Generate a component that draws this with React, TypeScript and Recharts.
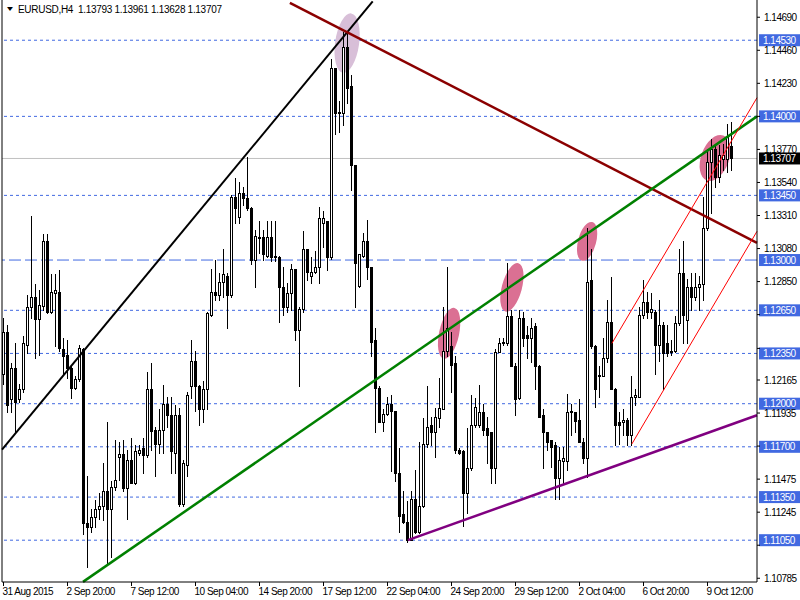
import React from 'react';
import { ComposedChart, Bar, XAxis, YAxis, ReferenceLine, ReferenceDot } from 'recharts';

// ---- data (EURUSD H4) ----
const opens = [
  1.1221,1.1250,1.1203,1.1225,1.1203,1.1210,1.1241,1.1267,1.1274,1.1259,
  1.1268,1.1313,1.1264,1.1277,1.1278,1.1238,1.1234,1.1225,1.1211,1.1217,
  1.1238,1.1117,1.1114,1.1121,1.1127,1.1129,1.1139,1.1127,1.1142,1.1163,
  1.1165,1.1141,1.1161,1.1145,1.1166,1.1169,1.1164,1.1210,1.1182,1.1172,
  1.1182,1.1200,1.1192,1.1166,1.1192,1.1130,1.1157,1.1212,1.1230,1.1212,
  1.1196,1.1210,1.1262,1.1278,1.1276,1.1285,1.1289,1.1276,1.1344,1.1330,
  1.1347,1.1343,1.1336,1.1300,1.1315,1.1316,1.1303,1.1316,1.1302,1.1302,
  1.1281,1.1267,1.1277,1.1294,1.1251,1.1266,1.1308,1.1289,1.1292,1.1295,
  1.1326,1.1327,1.1302,1.1434,1.1403,1.1402,1.1448,1.1421,1.1366,1.1282,
  1.1303,1.1313,1.1295,1.1244,1.1211,1.1187,1.1193,1.1200,1.1195,1.1152,
  1.1123,1.1118,1.1105,1.1134,1.1111,1.1129,1.1172,1.1185,1.1180,1.1190,
  1.1196,1.1237,1.1240,1.1228,1.1168,1.1167,1.1138,1.1155,1.1185,1.1185,
  1.1194,1.1183,1.1180,1.1155,1.1236,1.1242,1.1242,1.1261,1.1226,1.1204,
  1.1260,1.1248,1.1246,1.1254,1.1226,1.1192,1.1180,1.1175,1.1171,1.1148,
  1.1160,1.1160,1.1194,1.1194,1.1189,1.1173,1.1162,1.1286,1.1240,1.1220,
  1.1219,1.1232,1.1257,1.1210,1.1187,1.1187,1.1189,1.1178,1.1205,1.1205,
  1.1262,1.1271,1.1264,1.1264,1.1241,1.1255,1.1242,1.1236,1.1237,1.1256,
  1.1291,1.1258,1.1281,1.1274,1.1281,1.1283,1.1322,1.1368,1.1377,1.1358,
  1.1370,1.1370,1.13793,
];
const highs = [
  1.1260,1.1255,1.1228,1.1242,1.1214,1.1247,1.1276,1.1331,1.1283,1.1279,
  1.1318,1.1318,1.1290,1.1290,1.1293,1.1246,1.1244,1.1226,1.1219,1.1241,
  1.1239,1.1150,1.1127,1.1133,1.1138,1.1159,1.1187,1.1146,1.1175,1.1173,
  1.1175,1.1168,1.1176,1.1171,1.1171,1.1176,1.1222,1.1228,1.1184,1.1196,
  1.1213,1.1205,1.1205,1.1199,1.1197,1.1161,1.1208,1.1244,1.1237,1.1213,
  1.1216,1.1264,1.1294,1.1300,1.1291,1.1308,1.1291,1.1345,1.1357,1.1354,
  1.1351,1.1372,1.1337,1.1321,1.1327,1.1321,1.1327,1.1327,1.1327,1.1303,
  1.1295,1.1284,1.1297,1.1294,1.1267,1.1320,1.1308,1.1302,1.1306,1.1337,
  1.1334,1.1327,1.1440,1.1434,1.1411,1.1459,1.1459,1.1429,1.1366,1.1304,
  1.1319,1.1328,1.1295,1.1253,1.1212,1.1196,1.1205,1.1206,1.1195,1.1169,
  1.1139,1.1132,1.1139,1.1154,1.1173,1.1190,1.1212,1.1191,1.1197,1.1218,
  1.1267,1.1295,1.1250,1.1233,1.1169,1.1168,1.1183,1.1206,1.1204,1.1213,
  1.1200,1.1191,1.1180,1.1238,1.1246,1.1246,1.1298,1.1265,1.1228,1.1265,
  1.1264,1.1254,1.1260,1.1256,1.1227,1.1196,1.1180,1.1175,1.1173,1.1170,
  1.1170,1.1207,1.1200,1.1194,1.1203,1.1176,1.1322,1.1308,1.1241,1.1226,
  1.1246,1.1272,1.1288,1.1211,1.1194,1.1196,1.1190,1.1219,1.1210,1.1267,
  1.1286,1.1278,1.1277,1.1265,1.1272,1.1257,1.1255,1.1244,1.1261,1.1308,
  1.1313,1.1287,1.1291,1.1291,1.1289,1.1344,1.1377,1.1384,1.1381,1.1380,
  1.1381,1.1395,1.13961,
];
const lows = [
  1.1214,1.1194,1.1194,1.1180,1.1201,1.1208,1.1235,1.1260,1.1232,1.1234,
  1.1265,1.1263,1.1263,1.1240,1.1237,1.1220,1.1218,1.1204,1.1210,1.1216,
  1.1109,1.1086,1.1111,1.1114,1.1120,1.1119,1.1089,1.1093,1.1140,1.1147,
  1.1139,1.1120,1.1145,1.1144,1.1164,1.1152,1.1163,1.1168,1.1150,1.1166,
  1.1166,1.1184,1.1152,1.1152,1.1129,1.1129,1.1150,1.1204,1.1195,1.1185,
  1.1187,1.1196,1.1261,1.1272,1.1272,1.1274,1.1253,1.1274,1.1326,1.1326,
  1.1338,1.1335,1.1297,1.1281,1.1305,1.1300,1.1302,1.1299,1.1299,1.1257,
  1.1262,1.1264,1.1265,1.1244,1.1212,1.1264,1.1286,1.1284,1.1291,1.1284,
  1.1309,1.1293,1.1301,1.1388,1.1389,1.1394,1.1409,1.1349,1.1267,1.1281,
  1.1302,1.1287,1.1233,1.1180,1.1187,1.1181,1.1192,1.1153,1.1146,1.1111,
  1.1117,1.1104,1.1105,1.1110,1.1110,1.1128,1.1170,1.1171,1.1163,1.1184,
  1.1196,1.1233,1.1208,1.1166,1.1165,1.1115,1.1124,1.1154,1.1184,1.1184,
  1.1178,1.1159,1.1145,1.1145,1.1236,1.1241,1.1241,1.1226,1.1192,1.1203,
  1.1240,1.1232,1.1229,1.1210,1.1191,1.1155,1.1168,1.1156,1.1134,1.1134,
  1.1145,1.1154,1.1178,1.1180,1.1173,1.1159,1.1149,1.1239,1.1198,1.1205,
  1.1219,1.1229,1.1210,1.1171,1.1172,1.1178,1.1171,1.1171,1.1199,1.1205,
  1.1260,1.1260,1.1260,1.1221,1.1230,1.1210,1.1233,1.1234,1.1236,1.1255,
  1.1242,1.1242,1.1265,1.1272,1.1265,1.1272,1.1321,1.1333,1.1351,1.1354,
  1.1363,1.1361,1.13628,
];
const closes = [
  1.1250,1.1199,1.1225,1.1201,1.1210,1.1242,1.1267,1.1274,1.1259,1.1269,
  1.1313,1.1264,1.1278,1.1279,1.1239,1.1233,1.1225,1.1211,1.1217,1.1239,
  1.1117,1.1114,1.1121,1.1127,1.1129,1.1139,1.1127,1.1142,1.1147,1.1165,
  1.1141,1.1161,1.1145,1.1167,1.1168,1.1164,1.1210,1.1181,1.1172,1.1182,
  1.1200,1.1192,1.1167,1.1192,1.1130,1.1159,1.1206,1.1230,1.1212,1.1196,
  1.1210,1.1263,1.1278,1.1276,1.1285,1.1290,1.1276,1.1344,1.1336,1.1347,
  1.1343,1.1336,1.1300,1.1317,1.1316,1.1304,1.1316,1.1302,1.1303,1.1281,
  1.1267,1.1277,1.1294,1.1251,1.1266,1.1308,1.1292,1.1292,1.1295,1.1329,
  1.1329,1.1302,1.1434,1.1402,1.1402,1.1448,1.1420,1.1366,1.1298,1.1304,
  1.1313,1.1295,1.1243,1.1211,1.1187,1.1193,1.1200,1.1195,1.1152,1.1122,
  1.1118,1.1105,1.1134,1.1111,1.1129,1.1172,1.1184,1.1180,1.1191,1.1197,
  1.1237,1.1253,1.1227,1.1168,1.1166,1.1138,1.1155,1.1185,1.1198,1.1194,
  1.1182,1.1178,1.1155,1.1236,1.1242,1.1243,1.1261,1.1226,1.1203,1.1260,
  1.1246,1.1246,1.1253,1.1226,1.1191,1.1180,1.1173,1.1170,1.1148,1.1161,
  1.1162,1.1194,1.1195,1.1188,1.1173,1.1162,1.1285,1.1240,1.1210,1.1219,
  1.1232,1.1257,1.1210,1.1185,1.1185,1.1189,1.1178,1.1205,1.1206,1.1262,
  1.1271,1.1264,1.1266,1.1241,1.1255,1.1235,1.1235,1.1237,1.1256,1.1291,
  1.1262,1.1281,1.1274,1.1281,1.1283,1.1322,1.1368,1.1377,1.1358,1.1373,
  1.1373,1.1386,1.13707,
];

const symbolTitle = 'EURUSD,H4';
const dateTickBars = [0, 16, 32, 48, 64, 80, 96, 112, 128, 144, 160, 176];
const dateLabels = [
  '31 Aug 2015', '2 Sep 20:00', '7 Sep 12:00', '10 Sep 04:00', '14 Sep 20:00', '17 Sep 12:00',
  '22 Sep 04:00', '24 Sep 20:00', '29 Sep 12:00', '2 Oct 04:00', '6 Oct 20:00', '9 Oct 12:00',
];
// axis scale ticks; those covered by a level box are drawn as marks only
const priceTicks = [
  1.1469, 1.1446, 1.1423, 1.14, 1.1377, 1.1354, 1.1331, 1.1308, 1.1285, 1.1262,
  1.12385, 1.12165, 1.11935, 1.11705, 1.11475, 1.11245, 1.11015, 1.10785,
];
const coveredTicks = [1.14, 1.1262, 1.12385, 1.11705, 1.11015];
const levelPrices = [1.1453, 1.14, 1.1345, 1.13, 1.1265, 1.1235, 1.12, 1.117, 1.1135, 1.1105];
const levelDashes = ['3 3', '3 3', '3 3', '12 4', '3 3', '3 3', '3 3', '3 3', '3 3', '3 3'];
const currentPrice = 1.13707;

// trend lines: [bar, price] endpoints
const trendFromBar = [-0.375, 71.6, 19.875, 101.1, 152.1, 157.1];
const trendFromPrice = [1.1168, 1.1479, 1.1076, 1.1105, 1.1242, 1.1172];
const trendToBar = [92.3, 188.375, 188.375, 188.375, 188.375, 188.375];
const trendToPrice = [1.1480, 1.1312, 1.1400, 1.1192, 1.1413, 1.1320];
const trendColors = ['#000000', '#8B0000', '#008000', '#800080', '#FF0000', '#FF0000'];
const trendWidths = [2, 2.5, 2.5, 2.5, 1, 1];

// highlight ellipses
const markBars = [85.9, 111.4, 127.1, 145.9, 177.9];
const markPrices = [1.1451, 1.1249, 1.1281, 1.1313, 1.1371];
const markColors = ['#D8BFD8', '#DB7093', '#DB7093', '#DB7093', '#DB7093'];
const markRx = [12, 10, 10, 9, 14];
const markRy = [30, 26, 25, 20, 24];
const markTilt = [8, 12, 15, 15, 20];

const data = opens.map((o, i) => ({
  i,
  o,
  h: highs[i],
  l: lows[i],
  c: closes[i],
  range: [lows[i], highs[i]],
}));

const FONT = '"Liberation Sans", Arial, sans-serif';
const BLUE = '#4169E1';

const Candle = (props: any) => {
  const { x, y, width, height, payload } = props;
  if (x == null || y == null || !payload) return null;
  const cx = Math.round(x + width / 2 - 0.5) + 0.5;
  const top = Math.min(y, y + height);
  const bottom = Math.max(y, y + height);
  const span = payload.h - payload.l;
  const k = span > 0 ? (bottom - top) / span : 0;
  const py = (v: number) => top + (payload.h - v) * k;
  const yo = py(payload.o);
  const yc = py(payload.c);
  const bull = payload.c >= payload.o;
  const bt = Math.round(Math.min(yo, yc));
  const bb = Math.round(Math.max(yo, yc));
  return (
    <g shapeRendering="crispEdges">
      <line x1={cx} x2={cx} y1={Math.round(top)} y2={Math.round(bottom) + 1} stroke="#000" strokeWidth={1} />
      {bull ? (
        <rect x={cx - 1} y={bt + 0.5} width={2} height={Math.max(bb - bt, 1)} fill="#fff" stroke="#000" strokeWidth={1} />
      ) : (
        <rect x={cx - 1.5} y={bt} width={3} height={Math.max(bb - bt + 1, 1)} fill="#000" />
      )}
    </g>
  );
};

const DateTick = (props: any) => {
  const { x, y, payload } = props;
  const idx = dateTickBars.indexOf(payload.value);
  return (
    <text x={x - 1} y={y + 9} fontSize={10} fontFamily={FONT} fill="#000" textAnchor="start" letterSpacing={-0.5}>
      {idx >= 0 ? dateLabels[idx] : ''}
    </text>
  );
};

const PriceTick = (props: any) => {
  const { x, y, payload } = props;
  const v = Number(payload.value);
  if (coveredTicks.some((t) => Math.abs(t - v) < 1e-7)) return <g />;
  return (
    <text x={x} y={y + 3.5} fontSize={10} fontFamily={FONT} fill="#000" textAnchor="start" letterSpacing={-0.5}>
      {v.toFixed(5)}
    </text>
  );
};

const boxLabel = (text: string, bg: string) => (props: any) => {
  const vb = props.viewBox || {};
  const right = (vb.x || 0) + (vb.width || 0);
  const ly = vb.y || 0;
  return (
    <g>
      <rect x={right + 2} y={ly - 6} width={41} height={12} fill={bg} />
      <text x={right + 6} y={ly + 3.5} fontSize={10} fontFamily={FONT} fill="#fff" letterSpacing={-0.5}>
        {text}
      </text>
    </g>
  );
};

const ellipseShape = (rx: number, ry: number, tilt: number, color: string) => (p: any) => {
  if (p.cx == null) return <g />;
  return (
    <ellipse cx={p.cx} cy={p.cy} rx={rx} ry={ry} fill={color} transform={`rotate(${tilt} ${p.cx} ${p.cy})`} />
  );
};

const refProps: any = { zIndex: 250 };

export default function App() {
  return (
    <div style={{ position: 'absolute', left: 0, top: 0, width: 800, height: 600, background: '#fff', overflow: 'hidden' }}>
      <ComposedChart width={800} height={600} data={data} margin={{ top: 0, right: 0, bottom: 0, left: 2 }}>
        <XAxis
          type="number"
          dataKey="i"
          domain={[-0.375, 188.375]}
          allowDataOverflow
          ticks={dateTickBars}
          interval={0}
          height={18}
          tickSize={4}
          tickMargin={0}
          axisLine={{ stroke: '#000' }}
          tickLine={{ stroke: '#000' }}
          tick={<DateTick />}
        />
        <YAxis
          orientation="right"
          type="number"
          domain={[1.10759, 1.1481]}
          allowDataOverflow
          ticks={priceTicks}
          interval={0}
          width={43}
          tickSize={3}
          tickMargin={4}
          axisLine={{ stroke: '#000' }}
          tickLine={{ stroke: '#000' }}
          tick={<PriceTick />}
        />
        <ReferenceLine x={-0.375} stroke="#000" ifOverflow="visible" />
        {levelPrices.map((p, j) => (
          <ReferenceLine
            key={'lv' + j}
            y={p}
            stroke={BLUE}
            strokeDasharray={levelDashes[j]}
            ifOverflow="visible"
            label={boxLabel(p.toFixed(5), BLUE)}
            {...refProps}
          />
        ))}
        <ReferenceLine
          y={currentPrice}
          stroke="#C0C0C0"
          ifOverflow="visible"
          label={boxLabel(currentPrice.toFixed(5), '#000')}
          {...refProps}
        />
        {markBars.map((b, j) => (
          <ReferenceDot
            key={'mk' + j}
            x={b}
            y={markPrices[j]}
            r={markRx[j]}
            ifOverflow="visible"
            shape={ellipseShape(markRx[j], markRy[j], markTilt[j], markColors[j])}
            {...refProps}
          />
        ))}
        <Bar dataKey="range" barSize={3} isAnimationActive={false} shape={<Candle />} />
        {trendFromBar.map((b, j) => (
          <ReferenceLine
            key={'tl' + j}
            segment={[
              { x: b, y: trendFromPrice[j] },
              { x: trendToBar[j], y: trendToPrice[j] },
            ]}
            stroke={trendColors[j]}
            strokeWidth={trendWidths[j]}
            ifOverflow="visible"
          />
        ))}
      </ComposedChart>
      <div style={{ position: 'absolute', left: 5, top: 3, fontFamily: FONT, fontSize: 10, lineHeight: '12px', transform: 'scaleY(0.7)' }}>▼</div>
      <div
        style={{
          position: 'absolute',
          left: 18,
          top: 4,
          fontFamily: FONT,
          fontSize: 10,
          lineHeight: '12px',
          letterSpacing: -0.3,
          whiteSpace: 'pre',
          color: '#000',
        }}
      >
        {`${symbolTitle}  ${opens[182].toFixed(5)} ${highs[182].toFixed(5)} ${lows[182].toFixed(5)} ${closes[182].toFixed(5)}`}
      </div>
    </div>
  );
}
